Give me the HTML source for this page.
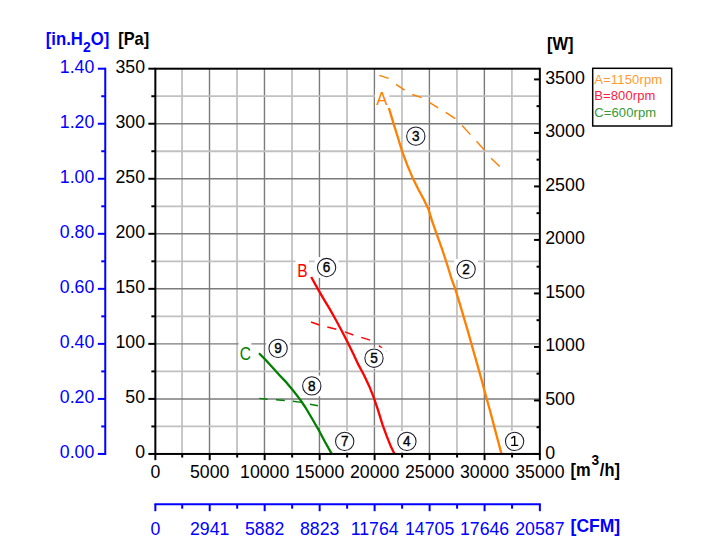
<!DOCTYPE html>
<html><head><meta charset="utf-8"><title>Fan curve</title>
<style>
html,body{margin:0;padding:0;background:#fff;}
body{width:714px;height:560px;overflow:hidden;position:relative;font-family:"Liberation Sans",sans-serif;}
</style></head><body>
<svg width="714" height="560" viewBox="0 0 714 560" style="position:absolute;left:0;top:0">
<rect x="0" y="0" width="714" height="560" fill="#ffffff"/>
<line x1="182.06" y1="68.7" x2="182.06" y2="453.95" stroke="#c0c0c0" stroke-width="1.75"/>
<line x1="209.50" y1="68.7" x2="209.50" y2="453.95" stroke="#7b7b7b" stroke-width="1.4"/>
<line x1="237.03" y1="68.7" x2="237.03" y2="453.95" stroke="#c0c0c0" stroke-width="1.75"/>
<line x1="264.47" y1="68.7" x2="264.47" y2="453.95" stroke="#7b7b7b" stroke-width="1.4"/>
<line x1="292.01" y1="68.7" x2="292.01" y2="453.95" stroke="#c0c0c0" stroke-width="1.75"/>
<line x1="319.45" y1="68.7" x2="319.45" y2="453.95" stroke="#7b7b7b" stroke-width="1.4"/>
<line x1="346.99" y1="68.7" x2="346.99" y2="453.95" stroke="#c0c0c0" stroke-width="1.75"/>
<line x1="374.42" y1="68.7" x2="374.42" y2="453.95" stroke="#7b7b7b" stroke-width="1.4"/>
<line x1="401.96" y1="68.7" x2="401.96" y2="453.95" stroke="#c0c0c0" stroke-width="1.75"/>
<line x1="429.40" y1="68.7" x2="429.40" y2="453.95" stroke="#7b7b7b" stroke-width="1.4"/>
<line x1="456.94" y1="68.7" x2="456.94" y2="453.95" stroke="#c0c0c0" stroke-width="1.75"/>
<line x1="484.37" y1="68.7" x2="484.37" y2="453.95" stroke="#7b7b7b" stroke-width="1.4"/>
<line x1="511.91" y1="68.7" x2="511.91" y2="453.95" stroke="#c0c0c0" stroke-width="1.75"/>
<line x1="155.35" y1="426.43" x2="539.85" y2="426.43" stroke="#c0c0c0" stroke-width="1.8"/>
<line x1="155.35" y1="398.91" x2="539.85" y2="398.91" stroke="#7b7b7b" stroke-width="1.45"/>
<line x1="155.35" y1="371.40" x2="539.85" y2="371.40" stroke="#c0c0c0" stroke-width="1.8"/>
<line x1="155.35" y1="343.88" x2="539.85" y2="343.88" stroke="#7b7b7b" stroke-width="1.45"/>
<line x1="155.35" y1="316.36" x2="539.85" y2="316.36" stroke="#c0c0c0" stroke-width="1.8"/>
<line x1="155.35" y1="288.84" x2="539.85" y2="288.84" stroke="#7b7b7b" stroke-width="1.45"/>
<line x1="155.35" y1="261.32" x2="539.85" y2="261.32" stroke="#c0c0c0" stroke-width="1.8"/>
<line x1="155.35" y1="233.81" x2="539.85" y2="233.81" stroke="#7b7b7b" stroke-width="1.45"/>
<line x1="155.35" y1="206.29" x2="539.85" y2="206.29" stroke="#c0c0c0" stroke-width="1.8"/>
<line x1="155.35" y1="178.77" x2="539.85" y2="178.77" stroke="#7b7b7b" stroke-width="1.45"/>
<line x1="155.35" y1="151.25" x2="539.85" y2="151.25" stroke="#c0c0c0" stroke-width="1.8"/>
<line x1="155.35" y1="123.74" x2="539.85" y2="123.74" stroke="#7b7b7b" stroke-width="1.45"/>
<line x1="155.35" y1="96.22" x2="539.85" y2="96.22" stroke="#c0c0c0" stroke-width="1.8"/>
<line x1="379.3" y1="75.3" x2="388.7" y2="78.3" stroke="#ff7f00" stroke-width="1.4"/>
<line x1="396.0" y1="84.3" x2="404.6" y2="90.2" stroke="#ff7f00" stroke-width="1.4"/>
<line x1="412.3" y1="94.5" x2="421.6" y2="97.6" stroke="#ff7f00" stroke-width="1.4"/>
<line x1="429.3" y1="102.3" x2="438.1" y2="107.9" stroke="#ff7f00" stroke-width="1.4"/>
<line x1="445.7" y1="112.4" x2="455.3" y2="118.7" stroke="#ff7f00" stroke-width="1.4"/>
<line x1="462.1" y1="125.5" x2="470.4" y2="134.6" stroke="#ff7f00" stroke-width="1.4"/>
<line x1="476.5" y1="141.2" x2="484.5" y2="150.2" stroke="#ff7f00" stroke-width="1.4"/>
<line x1="491.1" y1="158.3" x2="499.7" y2="166.6" stroke="#ff7f00" stroke-width="1.4"/>
<line x1="311.0" y1="322.0" x2="319.4" y2="325" stroke="#ff0000" stroke-width="1.4"/>
<line x1="327.3" y1="327" x2="336.3" y2="329.2" stroke="#ff0000" stroke-width="1.4"/>
<line x1="344.8" y1="331.9" x2="353.3" y2="335.0" stroke="#ff0000" stroke-width="1.4"/>
<line x1="361.2" y1="337.3" x2="370.1" y2="340.2" stroke="#ff0000" stroke-width="1.4"/>
<line x1="378.8" y1="345.6" x2="382.2" y2="348" stroke="#ff0000" stroke-width="1.4"/>
<line x1="385.2" y1="350.8" x2="386.0" y2="351.5" stroke="#ff0000" stroke-width="1.4"/>
<line x1="259.3" y1="398.4" x2="267.6" y2="399.2" stroke="#008000" stroke-width="1.4"/>
<line x1="276.0" y1="399.8" x2="284.8" y2="400.5" stroke="#008000" stroke-width="1.4"/>
<line x1="292.9" y1="401.2" x2="301.3" y2="402.4" stroke="#008000" stroke-width="1.4"/>
<line x1="309.9" y1="404.2" x2="318" y2="405.8" stroke="#008000" stroke-width="1.4"/>
<path d="M388.9,108.0 L393.4,123.2 L397.9,137.5 L402.3,151.8 L407.7,166.1 L413.0,178.6 L418.4,189.5 L423.8,199.5 L428.6,209.6 L432.1,221.2 L436.6,233.8 L442.0,248.9 L447.3,265.0 L451.8,279.6 L455.1,288.5 L459.6,303.2 L464.1,318.4 L468.6,333.6 L472.3,347.0 L476.6,362.1 L481.4,379.1 L486.4,397.7 L490.4,412.0 L494.8,428.9 L498.4,442.3 L501.4,453.6" fill="none" stroke="#ff7f00" stroke-width="2.3" stroke-linejoin="round" stroke-linecap="butt"/>
<path d="M311.2,277.0 L316.8,287.1 L323.0,297.9 L329.5,308.6 L335.5,319.3 L341.3,330.0 L346.6,340.3 L352.9,353.0 L358.5,364.9 L363.8,374.8 L369.6,387.1 L373.9,397.9 L378.2,410.7 L382.5,424.6 L386.8,436.4 L391.1,447.1 L394.3,453.4" fill="none" stroke="#ff0000" stroke-width="2.3" stroke-linejoin="round" stroke-linecap="butt"/>
<path d="M259.0,353.3 L265.0,359.3 L272.1,367.1 L279.3,375.0 L286.4,382.4 L293.3,390.8 L299.8,399.1 L305.5,407.5 L312.3,419.0 L318.8,430.3 L325.2,442.3 L331.6,453.6" fill="none" stroke="#008000" stroke-width="2.3" stroke-linejoin="round" stroke-linecap="butt"/>
<rect x="155.35" y="68.7" width="384.5" height="385.25" fill="none" stroke="#000" stroke-width="2"/>
<line x1="148.35" y1="453.95" x2="155.35" y2="453.95" stroke="#000" stroke-width="2"/>
<line x1="151.35" y1="426.43" x2="155.35" y2="426.43" stroke="#000" stroke-width="2"/>
<line x1="148.35" y1="398.91" x2="155.35" y2="398.91" stroke="#000" stroke-width="2"/>
<line x1="151.35" y1="371.40" x2="155.35" y2="371.40" stroke="#000" stroke-width="2"/>
<line x1="148.35" y1="343.88" x2="155.35" y2="343.88" stroke="#000" stroke-width="2"/>
<line x1="151.35" y1="316.36" x2="155.35" y2="316.36" stroke="#000" stroke-width="2"/>
<line x1="148.35" y1="288.84" x2="155.35" y2="288.84" stroke="#000" stroke-width="2"/>
<line x1="151.35" y1="261.32" x2="155.35" y2="261.32" stroke="#000" stroke-width="2"/>
<line x1="148.35" y1="233.81" x2="155.35" y2="233.81" stroke="#000" stroke-width="2"/>
<line x1="151.35" y1="206.29" x2="155.35" y2="206.29" stroke="#000" stroke-width="2"/>
<line x1="148.35" y1="178.77" x2="155.35" y2="178.77" stroke="#000" stroke-width="2"/>
<line x1="151.35" y1="151.25" x2="155.35" y2="151.25" stroke="#000" stroke-width="2"/>
<line x1="148.35" y1="123.74" x2="155.35" y2="123.74" stroke="#000" stroke-width="2"/>
<line x1="151.35" y1="96.22" x2="155.35" y2="96.22" stroke="#000" stroke-width="2"/>
<line x1="148.35" y1="68.70" x2="155.35" y2="68.70" stroke="#000" stroke-width="2"/>
<line x1="155.35" y1="453.95" x2="155.35" y2="460.15" stroke="#000" stroke-width="2"/>
<line x1="182.21" y1="453.95" x2="182.21" y2="457.55" stroke="#000" stroke-width="2"/>
<line x1="209.70" y1="453.95" x2="209.70" y2="460.15" stroke="#000" stroke-width="2"/>
<line x1="237.18" y1="453.95" x2="237.18" y2="457.55" stroke="#000" stroke-width="2"/>
<line x1="264.67" y1="453.95" x2="264.67" y2="460.15" stroke="#000" stroke-width="2"/>
<line x1="292.16" y1="453.95" x2="292.16" y2="457.55" stroke="#000" stroke-width="2"/>
<line x1="319.65" y1="453.95" x2="319.65" y2="460.15" stroke="#000" stroke-width="2"/>
<line x1="347.13" y1="453.95" x2="347.13" y2="457.55" stroke="#000" stroke-width="2"/>
<line x1="374.62" y1="453.95" x2="374.62" y2="460.15" stroke="#000" stroke-width="2"/>
<line x1="402.11" y1="453.95" x2="402.11" y2="457.55" stroke="#000" stroke-width="2"/>
<line x1="429.60" y1="453.95" x2="429.60" y2="460.15" stroke="#000" stroke-width="2"/>
<line x1="457.09" y1="453.95" x2="457.09" y2="457.55" stroke="#000" stroke-width="2"/>
<line x1="484.57" y1="453.95" x2="484.57" y2="460.15" stroke="#000" stroke-width="2"/>
<line x1="512.06" y1="453.95" x2="512.06" y2="457.55" stroke="#000" stroke-width="2"/>
<line x1="539.85" y1="453.95" x2="539.85" y2="460.15" stroke="#000" stroke-width="2"/>
<line x1="534.0500000000001" y1="453.95" x2="539.85" y2="453.95" stroke="#000" stroke-width="2"/>
<line x1="536.5500000000001" y1="427.20" x2="539.85" y2="427.20" stroke="#000" stroke-width="2"/>
<line x1="534.0500000000001" y1="400.44" x2="539.85" y2="400.44" stroke="#000" stroke-width="2"/>
<line x1="536.5500000000001" y1="373.69" x2="539.85" y2="373.69" stroke="#000" stroke-width="2"/>
<line x1="534.0500000000001" y1="346.94" x2="539.85" y2="346.94" stroke="#000" stroke-width="2"/>
<line x1="536.5500000000001" y1="320.18" x2="539.85" y2="320.18" stroke="#000" stroke-width="2"/>
<line x1="534.0500000000001" y1="293.43" x2="539.85" y2="293.43" stroke="#000" stroke-width="2"/>
<line x1="536.5500000000001" y1="266.68" x2="539.85" y2="266.68" stroke="#000" stroke-width="2"/>
<line x1="534.0500000000001" y1="239.92" x2="539.85" y2="239.92" stroke="#000" stroke-width="2"/>
<line x1="536.5500000000001" y1="213.17" x2="539.85" y2="213.17" stroke="#000" stroke-width="2"/>
<line x1="534.0500000000001" y1="186.42" x2="539.85" y2="186.42" stroke="#000" stroke-width="2"/>
<line x1="536.5500000000001" y1="159.66" x2="539.85" y2="159.66" stroke="#000" stroke-width="2"/>
<line x1="534.0500000000001" y1="132.91" x2="539.85" y2="132.91" stroke="#000" stroke-width="2"/>
<line x1="536.5500000000001" y1="106.15" x2="539.85" y2="106.15" stroke="#000" stroke-width="2"/>
<line x1="534.0500000000001" y1="79.40" x2="539.85" y2="79.40" stroke="#000" stroke-width="2"/>
<line x1="105.25" y1="67.7" x2="105.25" y2="454.95" stroke="#0000ff" stroke-width="2"/>
<line x1="97.85" y1="453.95" x2="105.25" y2="453.95" stroke="#0000ff" stroke-width="2"/>
<line x1="101.25" y1="426.43" x2="105.25" y2="426.43" stroke="#0000ff" stroke-width="2"/>
<line x1="97.85" y1="398.91" x2="105.25" y2="398.91" stroke="#0000ff" stroke-width="2"/>
<line x1="101.25" y1="371.40" x2="105.25" y2="371.40" stroke="#0000ff" stroke-width="2"/>
<line x1="97.85" y1="343.88" x2="105.25" y2="343.88" stroke="#0000ff" stroke-width="2"/>
<line x1="101.25" y1="316.36" x2="105.25" y2="316.36" stroke="#0000ff" stroke-width="2"/>
<line x1="97.85" y1="288.84" x2="105.25" y2="288.84" stroke="#0000ff" stroke-width="2"/>
<line x1="101.25" y1="261.32" x2="105.25" y2="261.32" stroke="#0000ff" stroke-width="2"/>
<line x1="97.85" y1="233.81" x2="105.25" y2="233.81" stroke="#0000ff" stroke-width="2"/>
<line x1="101.25" y1="206.29" x2="105.25" y2="206.29" stroke="#0000ff" stroke-width="2"/>
<line x1="97.85" y1="178.77" x2="105.25" y2="178.77" stroke="#0000ff" stroke-width="2"/>
<line x1="101.25" y1="151.25" x2="105.25" y2="151.25" stroke="#0000ff" stroke-width="2"/>
<line x1="97.85" y1="123.74" x2="105.25" y2="123.74" stroke="#0000ff" stroke-width="2"/>
<line x1="101.25" y1="96.22" x2="105.25" y2="96.22" stroke="#0000ff" stroke-width="2"/>
<line x1="97.85" y1="68.70" x2="105.25" y2="68.70" stroke="#0000ff" stroke-width="2"/>
<line x1="154.35" y1="504.2" x2="540.85" y2="504.2" stroke="#0000ff" stroke-width="2"/>
<line x1="155.35" y1="504.2" x2="155.35" y2="511.2" stroke="#0000ff" stroke-width="2"/>
<line x1="182.21" y1="504.2" x2="182.21" y2="508.7" stroke="#0000ff" stroke-width="2"/>
<line x1="209.70" y1="504.2" x2="209.70" y2="511.2" stroke="#0000ff" stroke-width="2"/>
<line x1="237.18" y1="504.2" x2="237.18" y2="508.7" stroke="#0000ff" stroke-width="2"/>
<line x1="264.67" y1="504.2" x2="264.67" y2="511.2" stroke="#0000ff" stroke-width="2"/>
<line x1="292.16" y1="504.2" x2="292.16" y2="508.7" stroke="#0000ff" stroke-width="2"/>
<line x1="319.65" y1="504.2" x2="319.65" y2="511.2" stroke="#0000ff" stroke-width="2"/>
<line x1="347.13" y1="504.2" x2="347.13" y2="508.7" stroke="#0000ff" stroke-width="2"/>
<line x1="374.62" y1="504.2" x2="374.62" y2="511.2" stroke="#0000ff" stroke-width="2"/>
<line x1="402.11" y1="504.2" x2="402.11" y2="508.7" stroke="#0000ff" stroke-width="2"/>
<line x1="429.60" y1="504.2" x2="429.60" y2="511.2" stroke="#0000ff" stroke-width="2"/>
<line x1="457.09" y1="504.2" x2="457.09" y2="508.7" stroke="#0000ff" stroke-width="2"/>
<line x1="484.57" y1="504.2" x2="484.57" y2="511.2" stroke="#0000ff" stroke-width="2"/>
<line x1="512.06" y1="504.2" x2="512.06" y2="508.7" stroke="#0000ff" stroke-width="2"/>
<line x1="539.85" y1="504.2" x2="539.85" y2="511.2" stroke="#0000ff" stroke-width="2"/>
<text transform="translate(145.00,458.10) scale(0.985,1)" text-anchor="end" fill="#000" font-size="18" font-weight="normal" font-family="Liberation Sans, sans-serif" >0</text>
<text transform="translate(94.30,458.10) scale(0.985,1)" text-anchor="end" fill="#0000ff" font-size="18" font-weight="normal" font-family="Liberation Sans, sans-serif" >0.00</text>
<text transform="translate(545.20,458.50) scale(0.99,1)" text-anchor="start" fill="#000" font-size="18" font-weight="normal" font-family="Liberation Sans, sans-serif" >0</text>
<text transform="translate(145.00,403.06) scale(0.985,1)" text-anchor="end" fill="#000" font-size="18" font-weight="normal" font-family="Liberation Sans, sans-serif" >50</text>
<text transform="translate(94.30,403.06) scale(0.985,1)" text-anchor="end" fill="#0000ff" font-size="18" font-weight="normal" font-family="Liberation Sans, sans-serif" >0.20</text>
<text transform="translate(545.20,404.99) scale(0.99,1)" text-anchor="start" fill="#000" font-size="18" font-weight="normal" font-family="Liberation Sans, sans-serif" >500</text>
<text transform="translate(145.00,348.03) scale(0.985,1)" text-anchor="end" fill="#000" font-size="18" font-weight="normal" font-family="Liberation Sans, sans-serif" >100</text>
<text transform="translate(94.30,348.03) scale(0.985,1)" text-anchor="end" fill="#0000ff" font-size="18" font-weight="normal" font-family="Liberation Sans, sans-serif" >0.40</text>
<text transform="translate(545.20,351.49) scale(0.99,1)" text-anchor="start" fill="#000" font-size="18" font-weight="normal" font-family="Liberation Sans, sans-serif" >1000</text>
<text transform="translate(145.00,292.99) scale(0.985,1)" text-anchor="end" fill="#000" font-size="18" font-weight="normal" font-family="Liberation Sans, sans-serif" >150</text>
<text transform="translate(94.30,292.99) scale(0.985,1)" text-anchor="end" fill="#0000ff" font-size="18" font-weight="normal" font-family="Liberation Sans, sans-serif" >0.60</text>
<text transform="translate(545.20,297.98) scale(0.99,1)" text-anchor="start" fill="#000" font-size="18" font-weight="normal" font-family="Liberation Sans, sans-serif" >1500</text>
<text transform="translate(145.00,237.96) scale(0.985,1)" text-anchor="end" fill="#000" font-size="18" font-weight="normal" font-family="Liberation Sans, sans-serif" >200</text>
<text transform="translate(94.30,237.96) scale(0.985,1)" text-anchor="end" fill="#0000ff" font-size="18" font-weight="normal" font-family="Liberation Sans, sans-serif" >0.80</text>
<text transform="translate(545.20,244.47) scale(0.99,1)" text-anchor="start" fill="#000" font-size="18" font-weight="normal" font-family="Liberation Sans, sans-serif" >2000</text>
<text transform="translate(145.00,182.92) scale(0.985,1)" text-anchor="end" fill="#000" font-size="18" font-weight="normal" font-family="Liberation Sans, sans-serif" >250</text>
<text transform="translate(94.30,182.92) scale(0.985,1)" text-anchor="end" fill="#0000ff" font-size="18" font-weight="normal" font-family="Liberation Sans, sans-serif" >1.00</text>
<text transform="translate(545.20,190.97) scale(0.99,1)" text-anchor="start" fill="#000" font-size="18" font-weight="normal" font-family="Liberation Sans, sans-serif" >2500</text>
<text transform="translate(145.00,127.89) scale(0.985,1)" text-anchor="end" fill="#000" font-size="18" font-weight="normal" font-family="Liberation Sans, sans-serif" >300</text>
<text transform="translate(94.30,127.89) scale(0.985,1)" text-anchor="end" fill="#0000ff" font-size="18" font-weight="normal" font-family="Liberation Sans, sans-serif" >1.20</text>
<text transform="translate(545.20,137.46) scale(0.99,1)" text-anchor="start" fill="#000" font-size="18" font-weight="normal" font-family="Liberation Sans, sans-serif" >3000</text>
<text transform="translate(145.00,72.85) scale(0.985,1)" text-anchor="end" fill="#000" font-size="18" font-weight="normal" font-family="Liberation Sans, sans-serif" >350</text>
<text transform="translate(94.30,72.85) scale(0.985,1)" text-anchor="end" fill="#0000ff" font-size="18" font-weight="normal" font-family="Liberation Sans, sans-serif" >1.40</text>
<text transform="translate(545.20,83.95) scale(0.99,1)" text-anchor="start" fill="#000" font-size="18" font-weight="normal" font-family="Liberation Sans, sans-serif" >3500</text>
<text transform="translate(155.35,478.30) scale(0.985,1)" text-anchor="middle" fill="#000" font-size="18" font-weight="normal" font-family="Liberation Sans, sans-serif" >0</text>
<text transform="translate(155.35,534.50) scale(0.985,1)" text-anchor="middle" fill="#0000ff" font-size="18" font-weight="normal" font-family="Liberation Sans, sans-serif" >0</text>
<text transform="translate(209.70,478.30) scale(0.985,1)" text-anchor="middle" fill="#000" font-size="18" font-weight="normal" font-family="Liberation Sans, sans-serif" >5000</text>
<text transform="translate(209.70,534.50) scale(0.985,1)" text-anchor="middle" fill="#0000ff" font-size="18" font-weight="normal" font-family="Liberation Sans, sans-serif" >2941</text>
<text transform="translate(264.67,478.30) scale(0.985,1)" text-anchor="middle" fill="#000" font-size="18" font-weight="normal" font-family="Liberation Sans, sans-serif" >10000</text>
<text transform="translate(264.67,534.50) scale(0.985,1)" text-anchor="middle" fill="#0000ff" font-size="18" font-weight="normal" font-family="Liberation Sans, sans-serif" >5882</text>
<text transform="translate(319.65,478.30) scale(0.985,1)" text-anchor="middle" fill="#000" font-size="18" font-weight="normal" font-family="Liberation Sans, sans-serif" >15000</text>
<text transform="translate(319.65,534.50) scale(0.985,1)" text-anchor="middle" fill="#0000ff" font-size="18" font-weight="normal" font-family="Liberation Sans, sans-serif" >8823</text>
<text transform="translate(374.62,478.30) scale(0.985,1)" text-anchor="middle" fill="#000" font-size="18" font-weight="normal" font-family="Liberation Sans, sans-serif" >20000</text>
<text transform="translate(374.62,534.50) scale(0.985,1)" text-anchor="middle" fill="#0000ff" font-size="18" font-weight="normal" font-family="Liberation Sans, sans-serif" >11764</text>
<text transform="translate(429.60,478.30) scale(0.985,1)" text-anchor="middle" fill="#000" font-size="18" font-weight="normal" font-family="Liberation Sans, sans-serif" >25000</text>
<text transform="translate(429.60,534.50) scale(0.985,1)" text-anchor="middle" fill="#0000ff" font-size="18" font-weight="normal" font-family="Liberation Sans, sans-serif" >14705</text>
<text transform="translate(484.57,478.30) scale(0.985,1)" text-anchor="middle" fill="#000" font-size="18" font-weight="normal" font-family="Liberation Sans, sans-serif" >30000</text>
<text transform="translate(484.57,534.50) scale(0.985,1)" text-anchor="middle" fill="#0000ff" font-size="18" font-weight="normal" font-family="Liberation Sans, sans-serif" >17646</text>
<text transform="translate(539.85,478.30) scale(0.985,1)" text-anchor="middle" fill="#000" font-size="18" font-weight="normal" font-family="Liberation Sans, sans-serif" >35000</text>
<text transform="translate(539.85,534.50) scale(0.985,1)" text-anchor="middle" fill="#0000ff" font-size="18" font-weight="normal" font-family="Liberation Sans, sans-serif" >20587</text>
<text transform="translate(45.7,45.3) scale(0.93,1)" fill="#0000ff" font-size="18" font-weight="bold" font-family="Liberation Sans, sans-serif">[in.H<tspan dy="6.6" font-size="15">2</tspan><tspan dy="-6.6">O]</tspan></text>
<text transform="translate(118.2,45.3) scale(0.91,1)" fill="#000" font-size="18" font-weight="bold" font-family="Liberation Sans, sans-serif">[Pa]</text>
<text transform="translate(546.9,49.7) scale(0.915,1)" fill="#000" font-size="18" font-weight="bold" font-family="Liberation Sans, sans-serif">[W]</text>
<text transform="translate(570.6,475.9) scale(0.94,1)" fill="#000" font-size="17.5" font-weight="bold" font-family="Liberation Sans, sans-serif">[m<tspan dy="-11.4" dx="0.8" font-size="14.6">3</tspan><tspan dy="11.4" dx="0.8">/h]</tspan></text>
<text transform="translate(570.6,532.2) scale(1.0,1)" fill="#0000ff" font-size="17.5" font-weight="bold" font-family="Liberation Sans, sans-serif">[CFM]</text>
<rect x="592.7" y="68.3" width="79" height="57.7" fill="#fff" stroke="#000" stroke-width="1.5"/>
<text x="594.3" y="83.8" fill="#ff9933" font-size="13" letter-spacing="0.15" font-family="Liberation Sans, sans-serif">A=1150rpm</text>
<text x="594.3" y="100.1" fill="#ff1a40" font-size="13" letter-spacing="0.1" font-family="Liberation Sans, sans-serif">B=800rpm</text>
<text x="594.3" y="116.6" fill="#339933" font-size="13" letter-spacing="0.1" font-family="Liberation Sans, sans-serif">C=600rpm</text>
<rect x="375.05" y="88.5" width="14.25" height="19.0" fill="#fff"/>
<text x="376.2" y="105.0" fill="#ff7f00" font-size="18" textLength="11.2" lengthAdjust="spacingAndGlyphs" font-family="Liberation Sans, sans-serif">A</text>
<rect x="295.5" y="257.5" width="13.399999999999977" height="21.0" fill="#fff"/>
<text x="297.3" y="277.0" fill="#ff0000" font-size="18" textLength="10.4" lengthAdjust="spacingAndGlyphs" font-family="Liberation Sans, sans-serif">B</text>
<rect x="238.6" y="341.5" width="12.800000000000011" height="20.5" fill="#fff"/>
<text x="239.8" y="360.2" fill="#008000" font-size="18" textLength="11.2" lengthAdjust="spacingAndGlyphs" font-family="Liberation Sans, sans-serif">C</text>
<rect x="502.70000000000005" y="430.90000000000003" width="23.8" height="20.8" fill="#fff"/>
<circle cx="514.6" cy="441.3" r="9.15" fill="#fff" stroke="#1a1a2a" stroke-width="1.05"/>
<path transform="translate(514.6,441.3)" d="M-3.3,-2.9 L-0.3,-5.0 M0.1,-5.4 L0.1,4.1 M-3.5,4.1 L3.6,4.1" fill="none" stroke="#000" stroke-width="1.35"/>
<rect x="454.20000000000005" y="258.95000000000005" width="23.8" height="20.8" fill="#fff"/>
<circle cx="466.1" cy="269.35" r="9.15" fill="#fff" stroke="#1a1a2a" stroke-width="1.05"/>
<text transform="translate(466.1,274.3) scale(0.93,1)" text-anchor="middle" fill="#000" font-size="14.6" stroke="#000" stroke-width="0.4" font-family="Liberation Sans, sans-serif">2</text>
<rect x="403.90000000000003" y="125.79999999999998" width="23.8" height="20.8" fill="#fff"/>
<circle cx="415.8" cy="136.2" r="9.15" fill="#fff" stroke="#1a1a2a" stroke-width="1.05"/>
<text transform="translate(415.8,141.14999999999998) scale(0.93,1)" text-anchor="middle" fill="#000" font-size="14.6" stroke="#000" stroke-width="0.4" font-family="Liberation Sans, sans-serif">3</text>
<rect x="395.0" y="431.0" width="23.8" height="20.8" fill="#fff"/>
<circle cx="406.9" cy="441.4" r="9.15" fill="#fff" stroke="#1a1a2a" stroke-width="1.05"/>
<text transform="translate(406.9,446.34999999999997) scale(0.93,1)" text-anchor="middle" fill="#000" font-size="14.6" stroke="#000" stroke-width="0.4" font-family="Liberation Sans, sans-serif">4</text>
<rect x="362.1" y="347.8" width="23.8" height="20.8" fill="#fff"/>
<circle cx="374.0" cy="358.2" r="9.15" fill="#fff" stroke="#1a1a2a" stroke-width="1.05"/>
<text transform="translate(374.0,363.15) scale(0.93,1)" text-anchor="middle" fill="#000" font-size="14.6" stroke="#000" stroke-width="0.4" font-family="Liberation Sans, sans-serif">5</text>
<rect x="314.70000000000005" y="257.1" width="23.8" height="20.8" fill="#fff"/>
<circle cx="326.6" cy="267.5" r="9.15" fill="#fff" stroke="#1a1a2a" stroke-width="1.05"/>
<text transform="translate(326.6,272.45) scale(0.93,1)" text-anchor="middle" fill="#000" font-size="14.6" stroke="#000" stroke-width="0.4" font-family="Liberation Sans, sans-serif">6</text>
<rect x="332.8" y="431.0" width="23.8" height="20.8" fill="#fff"/>
<circle cx="344.7" cy="441.4" r="9.15" fill="#fff" stroke="#1a1a2a" stroke-width="1.05"/>
<text transform="translate(344.7,446.34999999999997) scale(0.93,1)" text-anchor="middle" fill="#000" font-size="14.6" stroke="#000" stroke-width="0.4" font-family="Liberation Sans, sans-serif">7</text>
<rect x="299.90000000000003" y="375.5" width="23.8" height="20.8" fill="#fff"/>
<circle cx="311.8" cy="385.9" r="9.15" fill="#fff" stroke="#1a1a2a" stroke-width="1.05"/>
<text transform="translate(311.8,390.84999999999997) scale(0.93,1)" text-anchor="middle" fill="#000" font-size="14.6" stroke="#000" stroke-width="0.4" font-family="Liberation Sans, sans-serif">8</text>
<rect x="266.20000000000005" y="338.0" width="23.8" height="20.8" fill="#fff"/>
<circle cx="278.1" cy="348.4" r="9.15" fill="#fff" stroke="#1a1a2a" stroke-width="1.05"/>
<text transform="translate(278.1,353.34999999999997) scale(0.93,1)" text-anchor="middle" fill="#000" font-size="14.6" stroke="#000" stroke-width="0.4" font-family="Liberation Sans, sans-serif">9</text>
</svg>
</body></html>
